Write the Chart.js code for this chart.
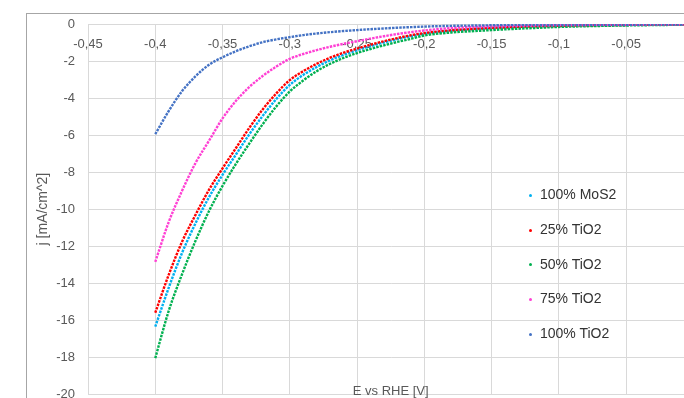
<!DOCTYPE html>
<html>
<head>
<meta charset="utf-8">
<script src="https://cdn.jsdelivr.net/npm/chart.js@4.4.1/dist/chart.umd.min.js"></script>
<style>
    body { margin: 0; width: 684px; height: 398px; overflow: hidden; background: #fff; position: relative; }
    #frame { position: absolute; left: 26px; top: 13px; width: 700px; height: 400px; border-left: 1px solid #a6a6a6; border-top: 1px solid #a6a6a6; }
    #myChart { position: absolute; left: 0; top: 0; }
    .legendItem { position: absolute; left: 529px; font: 14px 'Liberation Sans', Arial, sans-serif; color: #333; white-space: nowrap; }
    .legendItem span { display: inline-block; width: 3px; height: 3px; border-radius: 2px; margin-right: 8px; vertical-align: middle; }
</style>
</head>
<body>
<div id="frame"></div>
<canvas id="myChart" width="710" height="415"></canvas>
<div id="legend"></div>
<script>
// potential in V vs RHE, shared by every series
const potential = [-0.40, -0.39, -0.38, -0.37, -0.36, -0.35, -0.34, -0.33, -0.32, -0.31, -0.30, -0.29, -0.28, -0.27, -0.26, -0.25, -0.24, -0.23, -0.22, -0.21, -0.20, -0.18, -0.16, -0.14, -0.12, -0.10, -0.08, -0.05, -0.02, 0]

// current density in mA/cm^2
const mos2 = [-16.35, -14.25, -12.35, -10.75, -9.35, -8.15, -7.05, -5.95, -4.95, -4.05, -3.29, -2.75, -2.32, -1.96, -1.67, -1.42, -1.2, -1.0, -0.82, -0.66, -0.53, -0.37, -0.27, -0.2, -0.14, -0.11, -0.08, -0.05, -0.03, -0.02]
const tio2_25 = [-15.6, -13.55, -11.75, -10.3, -8.95, -7.8, -6.7, -5.6, -4.6, -3.75, -3.03, -2.55, -2.15, -1.82, -1.55, -1.33, -1.12, -0.93, -0.76, -0.61, -0.49, -0.34, -0.25, -0.18, -0.13, -0.1, -0.07, -0.05, -0.03, -0.02]
const tio2_50 = [-18.05, -15.5, -13.5, -11.7, -10.1, -8.75, -7.55, -6.45, -5.4, -4.45, -3.65, -3.05, -2.55, -2.15, -1.83, -1.57, -1.35, -1.15, -0.97, -0.8, -0.62, -0.46, -0.37, -0.29, -0.22, -0.16, -0.12, -0.08, -0.05, -0.03]
const tio2_75 = [-12.85, -10.7, -9.0, -7.5, -6.3, -5.1, -4.15, -3.4, -2.8, -2.3, -1.88, -1.62, -1.41, -1.23, -1.07, -0.93, -0.79, -0.66, -0.54, -0.44, -0.35, -0.22, -0.15, -0.11, -0.08, -0.06, -0.05, -0.03, -0.02, -0.02]
const tio2_100 = [-5.95, -4.7, -3.62, -2.82, -2.2, -1.8, -1.47, -1.2, -0.98, -0.83, -0.71, -0.6, -0.51, -0.44, -0.38, -0.33, -0.28, -0.24, -0.2, -0.17, -0.14, -0.1, -0.08, -0.06, -0.05, -0.05, -0.04, -0.04, -0.03, -0.03]

const seriesNames = ['100% MoS2', '25% TiO2', '50% TiO2', '75% TiO2', '100% TiO2']
const seriesValues = [mos2, tio2_25, tio2_50, tio2_75, tio2_100]
const seriesColors = ['#00B0F0', '#FF0000', '#00B050', '#FF40D4', '#4472C4']

const xTitle = 'E vs RHE [V]'
const yTitle = 'j [mA/cm^2]'

const gridColor = '#d9d9d9'
const tickColor = '#595959'
const fontFamily = "'Liberation Sans', Arial, sans-serif"

const commaFormat = v => {
    const n = Number(Number(v).toFixed(2))
    return n.toString().replace('.', ',')
}

// excel style axis title sitting on the bottom edge
const xTitlePlugin = {
    id: 'xTitlePlugin',
    afterDraw: chart => {
        const { ctx, chartArea } = chart
        ctx.save()
        ctx.font = '13px ' + fontFamily
        ctx.fillStyle = tickColor
        ctx.textAlign = 'center'
        ctx.textBaseline = 'middle'
        ctx.fillText(xTitle, (chartArea.left + chartArea.right) / 2, 391)
        ctx.restore()
    }
}

const datasets = seriesNames.map((name, index) => {
    return {
        label: name,
        data: potential.map((x, i) => ({ x: x, y: seriesValues[index][i] })),
        showLine: true,
        borderColor: seriesColors[index],
        backgroundColor: seriesColors[index],
        borderWidth: 2.4,
        borderDash: [2.5, 1.1],
        pointRadius: 0,
        cubicInterpolationMode: 'monotone',
        order: seriesNames.length - index
    }
})

const ctx = document.getElementById('myChart').getContext('2d')
const chart = new Chart(ctx, {
    type: 'scatter',
    data: { datasets: datasets },
    options: {
        responsive: false,
        animation: false,
        layout: {
            autoPadding: false,
            padding: { left: 0, top: 24, right: 12, bottom: 5 }
        },
        plugins: {
            legend: { display: false },
            tooltip: { enabled: false }
        },
        scales: {
            x: {
                type: 'linear',
                position: { y: 0 },
                min: -0.45,
                max: 0,
                ticks: {
                    stepSize: 0.05,
                    padding: 13,
                    color: tickColor,
                    font: { size: 13, family: fontFamily },
                    callback: v => commaFormat(v)
                },
                grid: { color: gridColor, drawTicks: false },
                border: { color: gridColor }
            },
            y: {
                type: 'linear',
                position: 'left',
                min: -20,
                max: 0,
                afterFit: scale => { scale.width = 88 },
                ticks: {
                    stepSize: 2,
                    padding: 13,
                    color: tickColor,
                    font: { size: 13, family: fontFamily },
                    callback: v => commaFormat(v)
                },
                grid: { color: gridColor, drawTicks: false },
                border: { color: gridColor },
                title: {
                    display: true,
                    text: yTitle,
                    color: tickColor,
                    font: { size: 14, family: fontFamily },
                    padding: { top: 35, bottom: 0 }
                }
            }
        }
    },
    plugins: [xTitlePlugin]
})

// legend placed inside the plot like the excel one
const legend = document.getElementById('legend')
seriesNames.forEach((name, index) => {
    const item = document.createElement('div')
    item.classList.add('legendItem')
    item.style.top = (186 + index * 34.8) + 'px'
    const dot = document.createElement('span')
    dot.style.background = seriesColors[index]
    item.appendChild(dot)
    item.appendChild(document.createTextNode(name))
    legend.appendChild(item)
})
</script>
</body>
</html>
